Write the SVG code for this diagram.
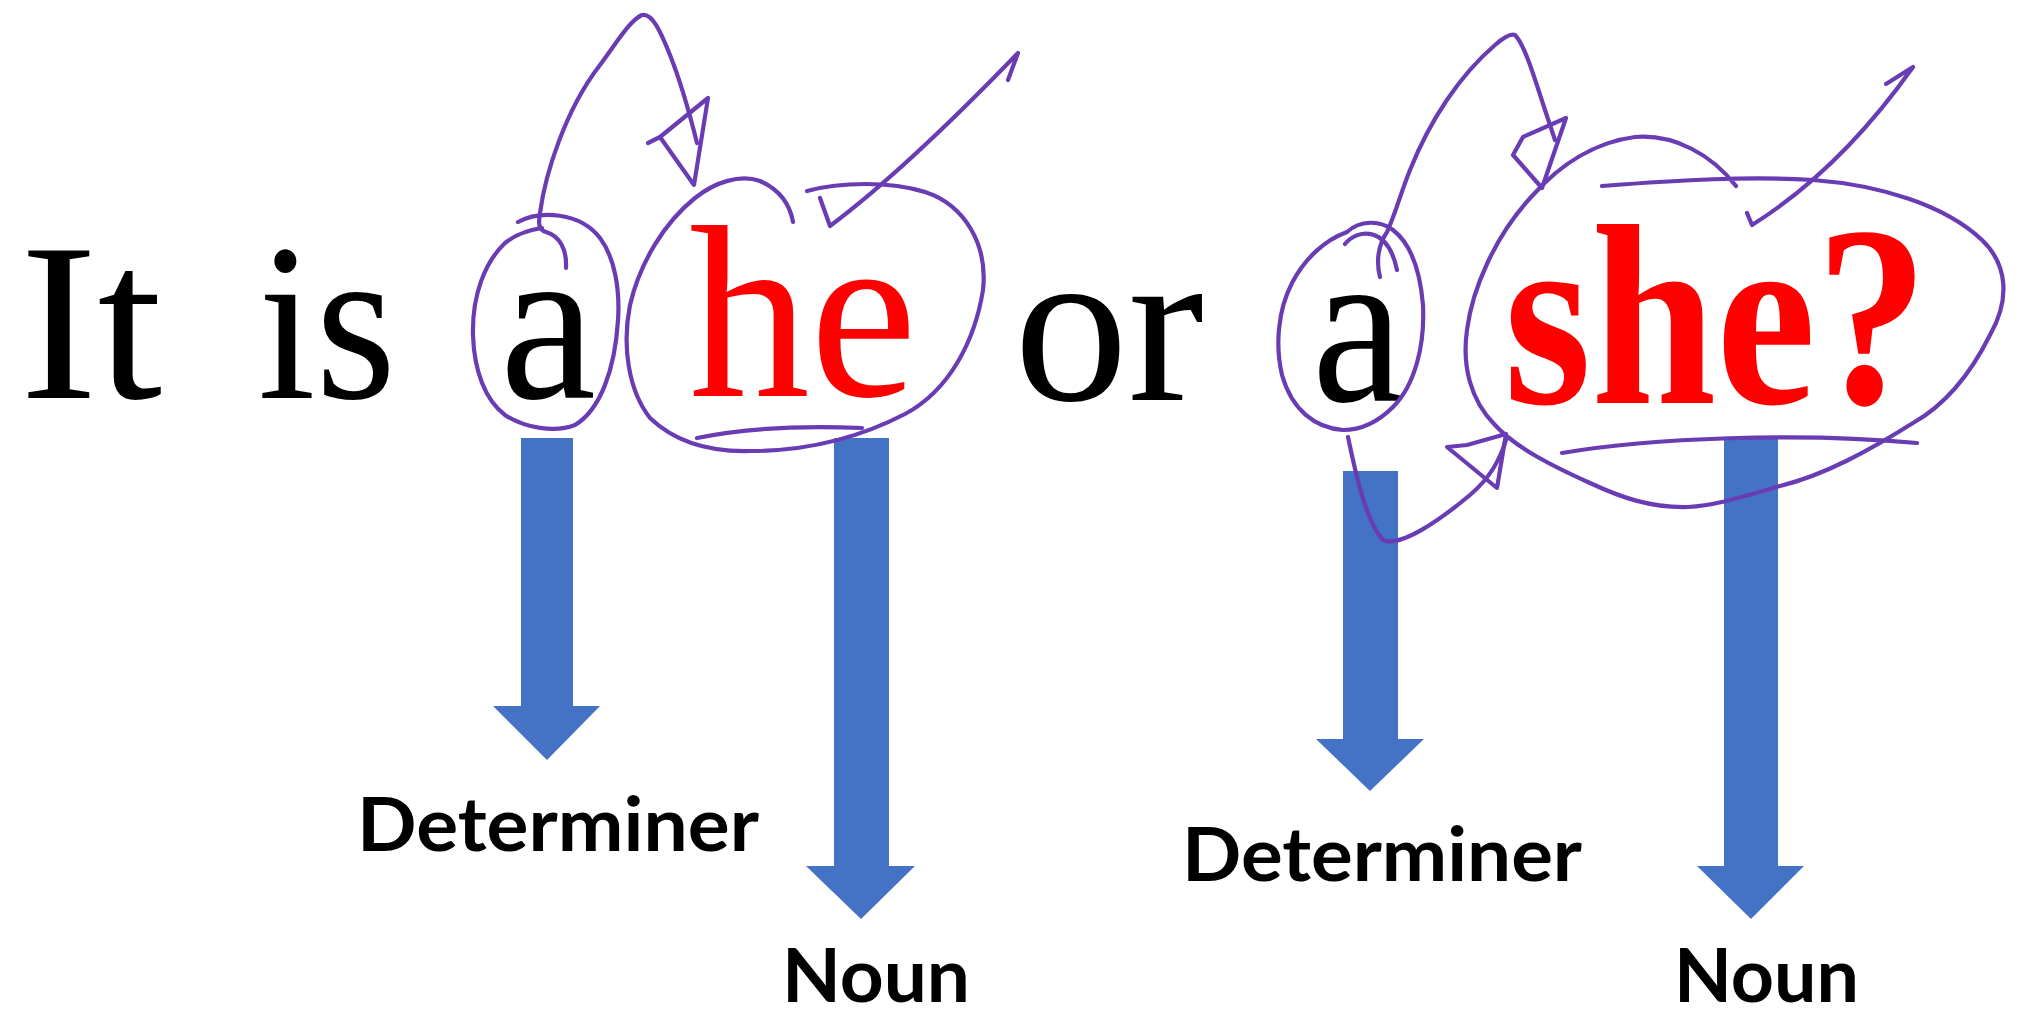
<svg xmlns="http://www.w3.org/2000/svg" width="2024" height="1016" viewBox="0 0 2024 1016">
<style>
.w{font-family:"Liberation Serif","Times New Roman",serif;fill:#000;}
.red{fill:#ff0000;}
.lbl{font-family:Lato,"Open Sans","Liberation Sans",sans-serif;font-weight:700;font-size:74px;fill:#000;}
.arrow{fill:#4472c4;}
.ink{fill:none;stroke:#6a3cb4;stroke-width:4.2;stroke-linecap:round;stroke-linejoin:round;}
</style>
<rect width="2024" height="1016" fill="#ffffff"/>
<g id="sentence">
  <g id="w-it"><text class="w" x="20" y="398" font-size="225" textLength="142" lengthAdjust="spacingAndGlyphs">It</text></g>
  <g id="w-is"><text class="w" x="258" y="398" font-size="225" textLength="138" lengthAdjust="spacingAndGlyphs">is</text></g>
  <g id="w-a1"><text class="w" x="500" y="398" font-size="225" textLength="96" lengthAdjust="spacingAndGlyphs">a</text></g>
  <g id="w-he"><text class="w red" x="689" y="396" font-size="245" textLength="228" lengthAdjust="spacingAndGlyphs">he</text></g>
  <g id="w-or"><text class="w" x="1014" y="400" font-size="225" textLength="190" lengthAdjust="spacingAndGlyphs">or</text></g>
  <g id="w-a2"><text class="w" x="1312" y="401" font-size="225" textLength="92" lengthAdjust="spacingAndGlyphs">a</text></g>
  <g id="w-she"><text class="w red" x="1504" y="403" font-size="258" font-weight="700" textLength="424" lengthAdjust="spacingAndGlyphs">she?</text></g>
</g>
<g id="connectors">
  <polygon id="arrow-det1" class="arrow" points="521,438 573,438 573,706 600,706 547,760 493,706 521,706"/>
  <polygon id="arrow-noun1" class="arrow" points="834,438 889,438 889,866 915,866 861,919 806,866 834,866"/>
  <polygon id="arrow-det2" class="arrow" points="1343,471 1398,471 1398,739 1424,739 1370,791 1316,739 1343,739"/>
  <polygon id="arrow-noun2" class="arrow" points="1724,439 1778,439 1778,866 1804,866 1751,919 1697,866 1724,866"/>
</g>
<g id="labels">
  <g id="lbl-det1"><text class="lbl" x="357" y="851" textLength="402" lengthAdjust="spacingAndGlyphs">Determiner</text></g>
  <g id="lbl-noun1"><text class="lbl" x="782" y="1002" textLength="188" lengthAdjust="spacingAndGlyphs">Noun</text></g>
  <g id="lbl-det2"><text class="lbl" x="1182" y="881" textLength="400" lengthAdjust="spacingAndGlyphs">Determiner</text></g>
  <g id="lbl-noun2"><text class="lbl" x="1674" y="1002" textLength="185" lengthAdjust="spacingAndGlyphs">Noun</text></g>
</g>
<g id="annotations">
  <path class="ink" d="M518,222 C540,210 580,212 600,238 C615,258 620,290 618,320 C615,370 600,410 575,425 C555,433 525,428 505,415 C485,400 474,370 473,335 C472,295 485,262 505,243 C515,235 528,230 542,228"/>
  <path class="ink" d="M566,268 C567,250 560,236 546,232 C539,230 538,224 540,213 C545,175 565,110 600,65 C615,45 630,20 642,15 C652,13 660,30 670,55 C680,80 690,115 697,143"/>
  <path class="ink" d="M648,143 L660,137 L708,98 L694,185 L660,137"/>
  <path class="ink" d="M793,222 C790,205 780,190 760,181 C740,174 715,182 695,198 C665,222 640,262 630,305 C622,345 628,390 650,418 C675,442 710,452 750,451 C800,451 855,440 905,414 C950,390 975,340 983,290 C988,245 965,205 925,192 C890,181 840,182 807,191"/>
  <path class="ink" d="M697,438 Q765,424 862,428"/>
  <path class="ink" d="M820,198 L830,226 Q905,170 1018,53 L1008,80"/>
  <path class="ink" d="M1347,232 C1360,220 1380,220 1393,230 C1410,243 1420,270 1423,305 C1425,345 1415,385 1393,407 C1378,422 1360,430 1343,430 C1315,428 1292,410 1282,375 C1275,345 1278,310 1292,283 C1305,258 1325,240 1347,232"/>
  <path class="ink" d="M1345,244 C1358,228 1388,226 1397,270"/>
  <path class="ink" d="M1380,277 C1376,262 1378,245 1387,232 C1395,215 1400,195 1410,170 C1430,120 1460,75 1495,45 C1503,38 1510,33 1515,35 C1525,45 1535,80 1545,110 L1555,140"/>
  <path class="ink" d="M1513,155 L1523,137 L1566,118 L1542,188 Z"/>
  <path class="ink" d="M1348,437 C1355,470 1365,520 1383,540 C1400,548 1440,520 1470,495 C1490,478 1500,460 1507,437"/>
  <path class="ink" d="M1447,447 L1467,445 L1506,434 L1497,488 Z"/>
  <path class="ink" d="M1602,186 C1680,180 1750,176 1813,180 C1880,185 1945,205 1982,240 C2008,265 2010,300 1990,335 C1970,375 1945,405 1913,423 C1870,450 1825,475 1780,486 C1745,496 1715,506 1688,507 C1650,508 1620,497 1590,483 C1550,465 1515,447 1495,425 C1470,400 1462,365 1467,330 C1472,290 1495,235 1533,195 C1560,165 1595,142 1635,137 C1675,134 1712,155 1736,186"/>
  <path class="ink" d="M1562,453 C1650,438 1800,432 1917,443"/>
  <path class="ink" d="M1747,213 L1752,225 Q1840,170 1913,67 L1886,84"/>
</g>
</svg>
